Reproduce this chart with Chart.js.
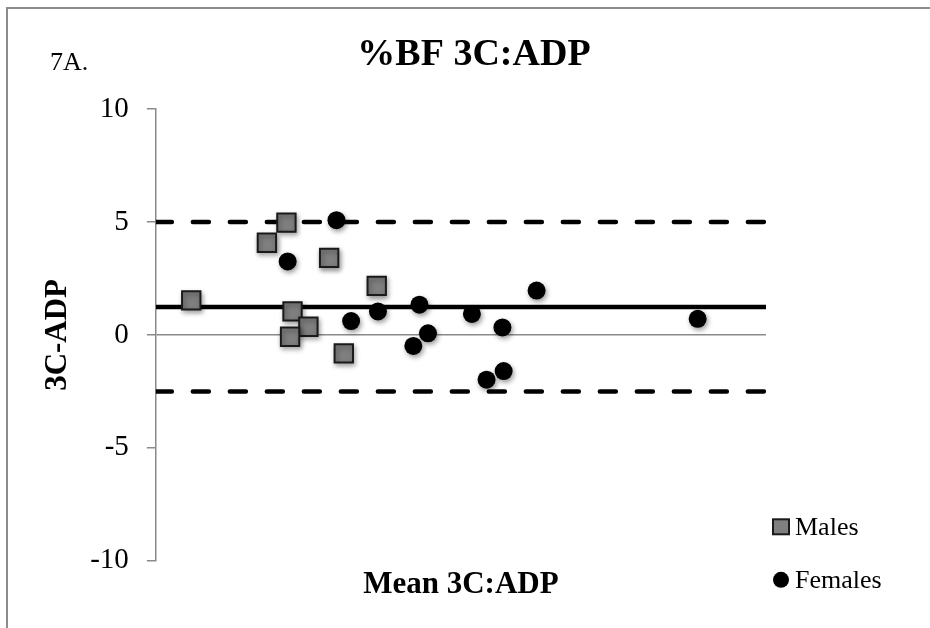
<!DOCTYPE html>
<html>
<head>
<meta charset="utf-8">
<script src="https://cdn.jsdelivr.net/npm/chart.js@4.4.1/dist/chart.umd.min.js"></script>
<style>
  html, body { margin: 0; padding: 0; background: #fff; overflow: hidden; }
  #wrap { position: relative; width: 930px; height: 628px; }
  #frame {
    position: absolute; left: 6px; top: 7px; width: 940px; height: 640px;
    border-left: 2px solid #8c8c8c; border-top: 2px solid #8c8c8c;
    pointer-events: none;
  }
</style>
</head>
<body>
<div id="wrap">
  <canvas id="myChart" width="930" height="628"></canvas>
  <div id="frame"></div>
</div>
<script>
// mean of the two methods (x) and their difference 3C - ADP (y)
const maleMean = [2.9, 10.7, 9.1, 14.2, 18.1, 11.2, 12.5, 11.0, 15.4];
const maleDiff = [1.53, 4.97, 4.08, 3.41, 2.17, 1.04, 0.36, -0.08, -0.82];
const femaleMean = [14.8, 10.8, 16.0, 18.2, 21.6, 22.3, 21.1, 25.9, 28.4, 31.2, 27.1, 28.5, 44.4];
const femaleDiff = [5.08, 3.25, 0.61, 1.04, 1.34, 0.07, -0.49, 0.93, 0.33, 1.96, -1.98, -1.60, 0.71];

// bias and limits of agreement
const meanBias = 1.23;
const upperLimit = 5.0;
const lowerLimit = -2.5;

const xRange = [0, 50];
const yTicks = [-10, -5, 0, 5, 10];

const serif = '"Liberation Serif", "Times New Roman", serif';
const grey = '#8a8a8a';

const pts = (xs, ys) => xs.map((x, i) => ({ x: x, y: ys[i] }));
const hline = v => [{ x: xRange[0], y: v }, { x: xRange[1], y: v }];

// soft drop shadow under the markers
const markerShadow = {
  id: 'markerShadow',
  beforeDatasetDraw(chart, args) {
    if (args.meta.type !== 'scatter') return;
    const ctx = chart.ctx;
    ctx.save();
    ctx.shadowColor = 'rgba(0,0,0,0.4)';
    ctx.shadowBlur = 5;
    ctx.shadowOffsetX = 1.5;
    ctx.shadowOffsetY = 2.5;
  },
  afterDatasetDraw(chart, args) {
    if (args.meta.type !== 'scatter') return;
    chart.ctx.restore();
  }
};

// heading, panel tag and the legend in the lower right
const extras = {
  id: 'extras',
  afterDraw(chart) {
    const ctx = chart.ctx;
    const area = chart.chartArea;
    ctx.save();
    ctx.fillStyle = '#000';
    ctx.textBaseline = 'alphabetic';

    ctx.font = 'bold 38px ' + serif;
    ctx.textAlign = 'center';
    ctx.fillText('%BF 3C:ADP', 474, 65);

    ctx.font = '26px ' + serif;
    ctx.textAlign = 'left';
    ctx.fillText('7A.', 50, 70);

    const x0 = area.right + 7;
    const rows = [area.bottom - 34, area.bottom + 19];
    chart.data.datasets.slice(0, 2).forEach((ds, i) => {
      const y = rows[i];
      ctx.fillStyle = ds.backgroundColor;
      ctx.strokeStyle = ds.borderColor;
      ctx.lineWidth = ds.borderWidth;
      if (ds.pointStyle === 'rect') {
        ctx.fillRect(x0, y - 7.5, 16, 15);
        ctx.strokeRect(x0, y - 7.5, 16, 15);
      } else {
        ctx.beginPath();
        ctx.arc(x0 + 8, y, 8, 0, Math.PI * 2);
        ctx.fill();
      }
      ctx.fillStyle = '#000';
      ctx.font = '26px ' + serif;
      ctx.textBaseline = 'middle';
      ctx.fillText(ds.label, x0 + 22, y + 1);
    });
    ctx.restore();
  }
};

const ctx = document.getElementById('myChart');

new Chart(ctx, {
  type: 'scatter',
  data: {
    datasets: [
      {
        label: 'Males',
        data: pts(maleMean, maleDiff),
        pointStyle: 'rect',
        pointRadius: 13,
        pointHoverRadius: 13,
        backgroundColor: '#7f7f7f',
        borderColor: '#1a1a1a',
        borderWidth: 2
      },
      {
        label: 'Females',
        data: pts(femaleMean, femaleDiff),
        pointStyle: 'circle',
        pointRadius: 9,
        pointHoverRadius: 9,
        backgroundColor: '#000',
        borderColor: '#000',
        borderWidth: 0
      },
      {
        type: 'line',
        label: 'Mean',
        data: hline(meanBias),
        borderColor: '#000',
        borderWidth: 4.5,
        pointRadius: 0
      },
      {
        type: 'line',
        label: 'Upper',
        data: hline(upperLimit),
        borderColor: '#000',
        borderWidth: 4.5,
        borderDash: [16, 21],
        borderCapStyle: 'round',
        pointRadius: 0
      },
      {
        type: 'line',
        label: 'Lower',
        data: hline(lowerLimit),
        borderColor: '#000',
        borderWidth: 4.5,
        borderDash: [16, 21],
        borderCapStyle: 'round',
        pointRadius: 0
      }
    ]
  },
  options: {
    responsive: false,
    animation: false,
    devicePixelRatio: 1,
    events: [],
    layout: {
      padding: { top: 109, left: 8, right: 164, bottom: 20 }
    },
    plugins: {
      legend: { display: false },
      title: { display: false },
      tooltip: { enabled: false }
    },
    scales: {
      x: {
        type: 'linear',
        min: xRange[0],
        max: xRange[1],
        border: { display: false },
        grid: { display: false, drawTicks: false },
        ticks: { display: false },
        title: {
          display: true,
          text: 'Mean 3C:ADP',
          color: '#000',
          font: { family: serif, size: 31, weight: 'bold' },
          padding: { top: 6, bottom: 4 }
        }
      },
      y: {
        min: yTicks[0],
        max: yTicks[yTicks.length - 1],
        afterBuildTicks: axis => { axis.ticks = yTicks.map(v => ({ value: v })); },
        border: { display: true, color: grey, width: 1.5 },
        grid: {
          color: c => (c.tick && c.tick.value === 0 ? grey : 'rgba(0,0,0,0)'),
          tickColor: grey,
          lineWidth: 1.5,
          tickLength: 9
        },
        ticks: {
          color: '#000',
          padding: 18,
          font: { family: serif, size: 29 }
        },
        title: {
          display: true,
          text: '3C-ADP',
          color: '#000',
          font: { family: serif, size: 31, weight: 'bold' },
          padding: { top: 31, bottom: -4 }
        }
      }
    }
  },
  plugins: [markerShadow, extras]
});
</script>
</body>
</html>
